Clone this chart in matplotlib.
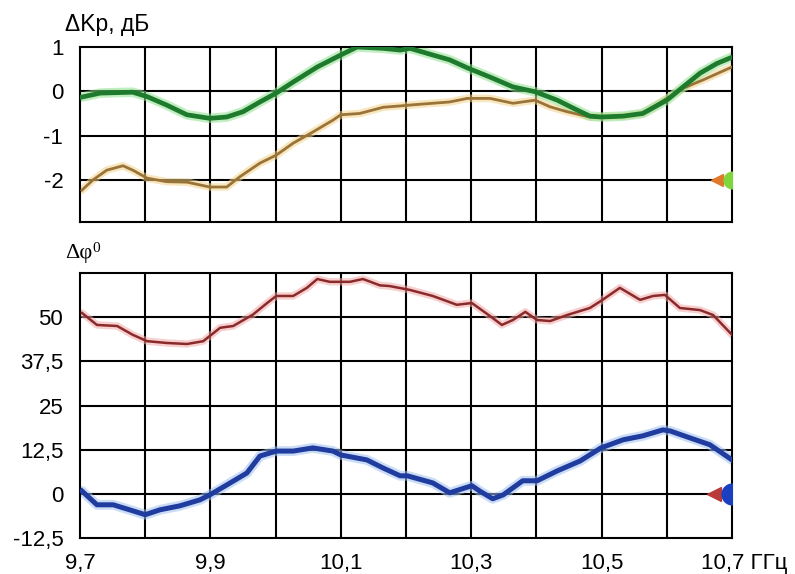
import matplotlib
matplotlib.use("Agg")
import matplotlib.pyplot as plt
from matplotlib.transforms import ScaledTranslation

# --- data: gain deviation (dB) and phase deviation (deg) vs frequency (GHz) ---
f_green = [9.703, 9.731, 9.781, 9.803, 9.833, 9.864, 9.899, 9.925, 9.950, 9.976,
           10.001, 10.027, 10.064, 10.100, 10.125, 10.165, 10.191, 10.206, 10.241,
           10.267, 10.294, 10.329, 10.364, 10.398, 10.432, 10.462, 10.482, 10.499,
           10.533, 10.563, 10.600, 10.625, 10.651, 10.677, 10.700]
k_green = [-0.13, -0.04, -0.02, -0.12, -0.31, -0.53, -0.61, -0.58, -0.46, -0.24,
           -0.04, 0.21, 0.55, 0.82, 1.0, 0.97, 0.93, 0.97, 0.82,
           0.71, 0.53, 0.32, 0.10, -0.01, -0.2, -0.42, -0.56, -0.58,
           -0.56, -0.5, -0.2, 0.1, 0.41, 0.63, 0.77]

f_orange = [9.703, 9.720, 9.741, 9.766, 9.781, 9.803, 9.833, 9.864, 9.899, 9.925,
            9.945, 9.976, 10.001, 10.027, 10.057, 10.088, 10.100, 10.129, 10.165,
            10.191, 10.206, 10.267, 10.294, 10.329, 10.364, 10.398, 10.421, 10.447,
            10.482, 10.533, 10.563, 10.600, 10.625, 10.656, 10.700]
k_orange = [-2.23, -2.0, -1.78, -1.68, -1.78, -1.96, -2.04, -2.05, -2.16, -2.16,
            -1.93, -1.62, -1.44, -1.17, -0.92, -0.65, -0.53, -0.5, -0.36,
            -0.33, -0.31, -0.24, -0.16, -0.16, -0.27, -0.2, -0.35, -0.46,
            -0.58, -0.56, -0.5, -0.16, 0.07, 0.26, 0.55]

f_red = [9.703, 9.726, 9.757, 9.781, 9.803, 9.833, 9.864, 9.889, 9.915, 9.935,
         9.965, 9.987, 10.001, 10.027, 10.048, 10.064, 10.083, 10.114, 10.134,
         10.160, 10.175, 10.206, 10.241, 10.278, 10.301, 10.329, 10.347, 10.364,
         10.383, 10.401, 10.421, 10.447, 10.482, 10.499, 10.528, 10.559, 10.579,
         10.597, 10.620, 10.651, 10.671, 10.700]
phi_red = [51.2, 47.8, 47.5, 45.0, 43.2, 42.7, 42.4, 43.2, 47.0, 47.5,
           50.7, 54.0, 56.0, 56.0, 58.3, 60.8, 60.0, 60.0, 60.8,
           59.0, 58.8, 57.7, 56.0, 53.5, 54.0, 50.3, 47.8, 49.2,
           51.5, 49.2, 48.9, 50.6, 52.6, 54.6, 58.3, 54.9, 56.0,
           56.3, 52.6, 52.0, 50.6, 45.0]

f_blue = [9.703, 9.726, 9.751, 9.781, 9.800, 9.823, 9.853, 9.884, 9.899, 9.925,
          9.956, 9.976, 10.001, 10.027, 10.057, 10.088, 10.100, 10.140, 10.165,
          10.191, 10.202, 10.241, 10.267, 10.301, 10.313, 10.333, 10.349, 10.379,
          10.401, 10.432, 10.467, 10.499, 10.533, 10.563, 10.594, 10.605, 10.636,
          10.666, 10.700]
phi_blue = [0.8, -3.1, -3.1, -4.8, -5.9, -4.5, -3.4, -1.7, -0.3, 2.5,
            5.9, 10.7, 12.1, 12.1, 13.0, 12.1, 11.0, 9.6, 7.3,
            5.1, 5.1, 3.1, 0.3, 2.3, 0.8, -1.4, -0.3, 3.7,
            3.7, 6.5, 9.3, 13.0, 15.3, 16.4, 18.1, 17.8, 15.8,
            13.9, 9.6]

x_ticks = [9.7, 9.9, 10.1, 10.3, 10.5, 10.7]
x_labels = ["9,7", "9,9", "10,1", "10,3", "10,5", "10,7 ГГц"]
k_ticks = [1, 0, -1, -2]
k_labels = ["1", "0", "-1", "-2"]
phi_ticks = [50, 37.5, 25, 12.5, 0, -12.5]
phi_labels = ["50", "37,5", "25", "12,5", "0", "-12,5"]

plt.rcParams["font.family"] = ["Liberation Sans", "DejaVu Sans"]
SERIF = ["Liberation Serif", "DejaVu Serif"]

fig = plt.figure(figsize=(7.95, 5.74), dpi=100)
ax1 = fig.add_axes([0.1006, 0.6132, 0.8202, 0.3049])
ax2 = fig.add_axes([0.1006, 0.0627, 0.8202, 0.4617])


def style_axes(ax, ylim, hlines):
    ax.set_xlim(9.7, 10.7)
    ax.set_ylim(*ylim)
    for i in range(1, 10):
        ax.axvline(9.7 + 0.1 * i, color="black", lw=1.5, zorder=1)
    for h in hlines:
        ax.axhline(h, color="black", lw=1.5, zorder=1)
    for s in ax.spines.values():
        s.set_linewidth(1.5)
    ax.tick_params(length=0, labelsize=16, pad=12)


def glow_line(ax, x, y, color, halo, lw):
    ax.plot(x, y, color=halo, lw=lw + 3.5, alpha=0.55, solid_capstyle="round", zorder=2)
    ax.plot(x, y, color=color, lw=lw, zorder=3)


# upper panel: gain deviation
style_axes(ax1, (-2.95, 1.0), [0, -1, -2])
glow_line(ax1, f_orange, k_orange, "#9a7338", "#f3d48a", 2.0)
glow_line(ax1, f_green, k_green, "#1e7a2c", "#8fe08f", 3.4)
ax1.plot([10.677], [-2], marker="<", ms=9, color="#e0782a", zorder=4)
ax1.plot([10.7], [-2], marker="o", ms=12, color="#7fd63a", zorder=4, clip_on=True)
ax1.set_xticks(x_ticks)
ax1.set_xticklabels([])
ax1.set_yticks(k_ticks)
ax1.set_yticklabels(k_labels)

# lower panel: phase deviation
style_axes(ax2, (-12.5, 62.5), [50, 37.5, 25, 12.5, 0])
glow_line(ax2, f_red, phi_red, "#8a2a2a", "#f2a8a8", 1.8)
glow_line(ax2, f_blue, phi_blue, "#1f3c9e", "#9fc0f0", 3.6)
ax2.plot([10.672], [0], marker="<", ms=10, color="#b83a3a", zorder=4)
ax2.plot([10.7], [0], marker="o", ms=15, color="#1a3fc0", zorder=4, clip_on=True)
ax2.set_xticks(x_ticks)
ax2.set_xticklabels(x_labels)
ax2.set_yticks(phi_ticks)
ax2.set_yticklabels(phi_labels)
ax2.tick_params(axis="x", pad=11, labelsize=16)

# last frequency label carries the unit, start it just left of the tick
last = ax2.get_xticklabels()[-1]
last.set_ha("left")
last.set_transform(last.get_transform() + ScaledTranslation(-0.31, 0, fig.dpi_scale_trans))

# axis captions
fig.text(65 / 795, 1 - 25 / 574, "\u0394Kр, дБ", fontsize=16.5, va="center", ha="left")
fig.text(65 / 795, 1 - 254 / 574, "\u0394\u03c6", fontsize=16, va="center", ha="left",
         family=SERIF)
fig.text(92 / 795, 1 - 248 / 574, "0", fontsize=11, va="center", ha="left",
         family=SERIF)

fig.savefig("out.png", dpi=100)
